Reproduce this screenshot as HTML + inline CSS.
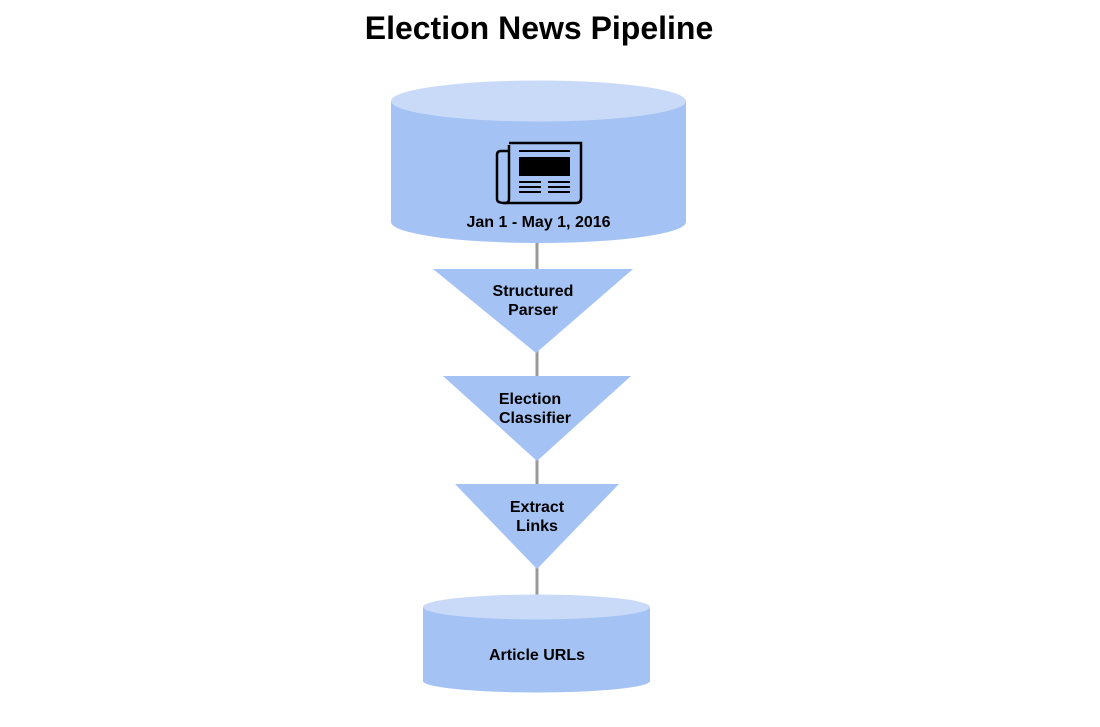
<!DOCTYPE html>
<html><head><meta charset="utf-8"><style>
html,body{margin:0;padding:0;background:#fff;}
svg{display:block;}
text{font-family:"Liberation Sans",Arial,sans-serif;font-weight:bold;fill:#000;}
</style></head><body>
<svg width="1100" height="727" viewBox="0 0 1100 727" xmlns="http://www.w3.org/2000/svg">
<text x="539" y="39" font-size="32" text-anchor="middle">Election News Pipeline</text>
<line x1="537" y1="240" x2="537" y2="600" stroke="#999" stroke-width="3"/>
<path d="M391,101 L391,222 A147.5,21 0 0 0 686,222 L686,101 Z" fill="#a4c2f4"/>
<ellipse cx="538.5" cy="101" rx="147.5" ry="20.5" fill="#c9daf8"/>
<g fill="none" stroke="#000" stroke-width="2.5">
<path d="M509,143 L581,143 L581,198 Q581,203 576,203 L503,203"/>
<path d="M509,145 L509,199 Q509,203 505,203 Q497,203 497,199 L497,155 Q497,151 501,151 L509,151"/>
</g>
<rect x="519" y="157" width="51" height="19" fill="#000"/>
<rect x="519" y="150" width="51" height="2" fill="#000"/>
<g fill="#000">
<rect x="519" y="181" width="22" height="2"/><rect x="548" y="181" width="22" height="2"/>
<rect x="519" y="186" width="22" height="2"/><rect x="548" y="186" width="22" height="2"/>
<rect x="519" y="191" width="22" height="2"/><rect x="548" y="191" width="22" height="2"/>
</g>
<text x="538.5" y="227" font-size="16" text-anchor="middle">Jan 1 - May 1, 2016</text>
<polygon points="433,269 633,269 536,353" fill="#a4c2f4"/>
<text x="533" y="296" font-size="16" text-anchor="middle">Structured</text>
<text x="533" y="315" font-size="16" text-anchor="middle">Parser</text>
<polygon points="443,376 631,376 537,461" fill="#a4c2f4"/>
<text x="530" y="404" font-size="16" text-anchor="middle">Election</text>
<text x="535" y="423" font-size="16" text-anchor="middle">Classifier</text>
<polygon points="455,484 619,484 537,569" fill="#a4c2f4"/>
<text x="537" y="512" font-size="16" text-anchor="middle">Extract</text>
<text x="537" y="531" font-size="16" text-anchor="middle">Links</text>
<path d="M423,607 L423,681 A113.5,11.5 0 0 0 650,681 L650,607 Z" fill="#a4c2f4"/>
<ellipse cx="536.5" cy="607" rx="113.5" ry="12.5" fill="#c9daf8"/>
<text x="537" y="660" font-size="16" text-anchor="middle">Article URLs</text>
</svg>
</body></html>
